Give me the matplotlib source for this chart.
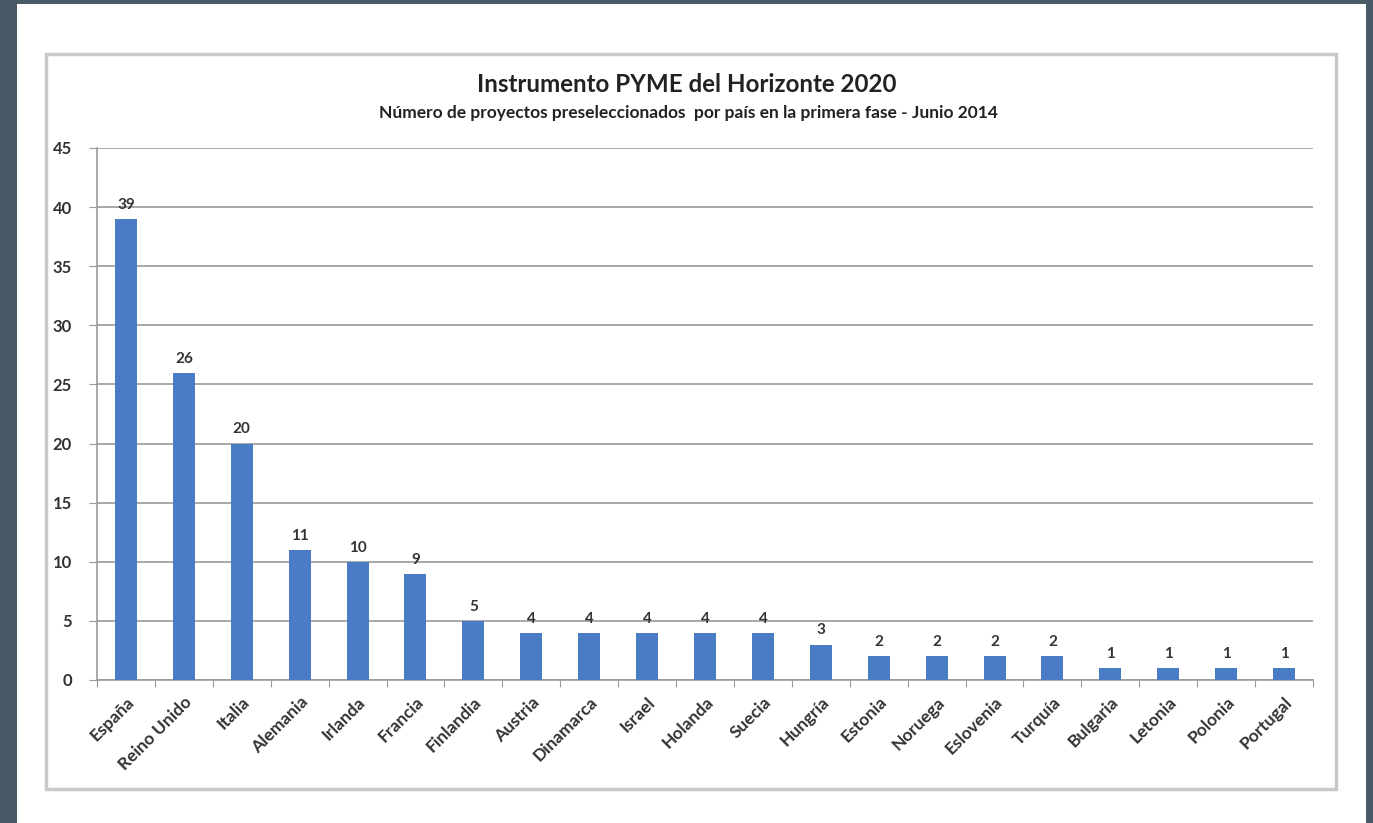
import matplotlib.pyplot as plt
from matplotlib.patches import Rectangle

paises = ['España', 'Reino Unido', 'Italia', 'Alemania', 'Irlanda', 'Francia',
          'Finlandia', 'Austria', 'Dinamarca', 'Israel', 'Holanda', 'Suecia',
          'Hungría', 'Estonia', 'Noruega', 'Eslovenia', 'Turquía', 'Bulgaria',
          'Letonia', 'Polonia', 'Portugal']
proyectos = [39, 26, 20, 11, 10, 9, 5, 4, 4, 4, 4, 4, 3, 2, 2, 2, 2, 1, 1, 1, 1]
yticks = [0, 5, 10, 15, 20, 25, 30, 35, 40, 45]

W, H = 1373, 823
fig = plt.figure(figsize=(W / 100, H / 100), dpi=100)
fig.patch.set_facecolor('#475a66')

# white panel and chart border
fig.patches.append(Rectangle((17 / W, 0), (1366 - 17) / W, (H - 4) / H,
                             transform=fig.transFigure, facecolor='white',
                             edgecolor='none', zorder=-2))
fig.patches.append(Rectangle((46 / W, 1 - 789 / H), (1336 - 46) / W, (789 - 54) / H,
                             transform=fig.transFigure, facecolor='white',
                             edgecolor='#c8c8c8', linewidth=2.5, zorder=-1))

ax = fig.add_axes([97 / W, 1 - 680 / H, (1313 - 97) / W, (680 - 148) / H])
ax.set_zorder(1)
x = range(len(paises))
ax.bar(x, proyectos, width=0.38, color='#4a7cc6', zorder=3)
for xi, v in zip(x, proyectos):
    ax.text(xi, v + 0.6, str(v), ha='center', va='bottom', fontsize=11,
            fontweight='bold', color='#333333', family='Lato')

ax.set_xlim(-0.5, len(paises) - 0.5)
ax.set_ylim(0, 45)
ax.set_yticks(yticks)
ax.set_yticklabels([str(t) for t in yticks], fontsize=12, fontweight='bold',
                   color='#333333', family='Lato')
ax.yaxis.grid(True, color='#999999', linewidth=1.2, zorder=0)
ax.set_axisbelow(True)
ax.tick_params(axis='y', length=6, color='#999999', pad=12)

ax.set_xticks([i - 0.5 for i in range(len(paises) + 1)], minor=False)
ax.set_xticklabels([])
ax.set_xticks(list(x), minor=True)
ax.set_xticklabels(paises, minor=True, rotation=45, ha='right',
                   rotation_mode='anchor', fontsize=12.5, fontweight='bold',
                   color='#333333', family='Lato')
ax.tick_params(axis='x', which='major', length=5, color='#999999')
ax.tick_params(axis='x', which='minor', length=0, pad=10)

for s in ['top', 'right']:
    ax.spines[s].set_visible(False)
for s in ['left', 'bottom']:
    ax.spines[s].set_color('#999999')
    ax.spines[s].set_linewidth(1.2)

fig.text(687 / W, 1 - 85 / H, 'Instrumento PYME del Horizonte 2020', ha='center',
         va='center', fontsize=17.4, fontweight='bold', color='#222222', family='Lato')
fig.text(688 / W, 1 - 113 / H,
         'Número de proyectos preseleccionados  por país en la primera fase - Junio 2014',
         ha='center', va='center', fontsize=12.5, fontweight='bold', color='#222222',
         family='Lato')

fig.savefig('out.png', dpi=100, facecolor=fig.get_facecolor())
